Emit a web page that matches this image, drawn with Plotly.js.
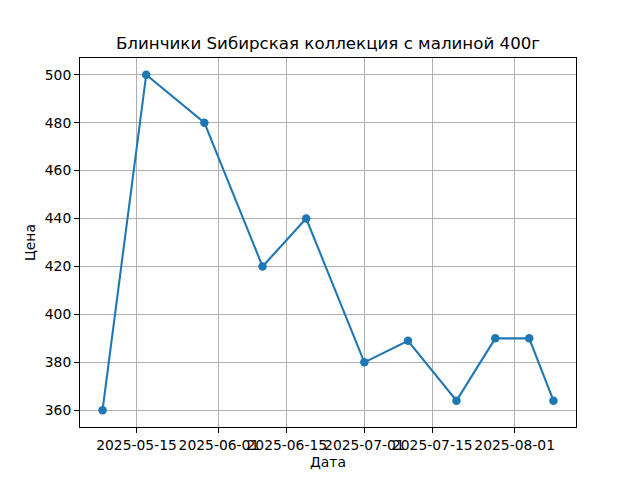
<!DOCTYPE html>
<html>
<head>
<meta charset="utf-8">
<script src="https://cdn.plot.ly/plotly-3.0.1.min.js"></script>
<style>html,body{margin:0;padding:0;background:#fff;}#chart{width:640px;height:480px;}</style>
</head>
<body>
<div id="chart"></div>
<script>
const dates = ["2025-05-08","2025-05-17","2025-05-29","2025-06-10","2025-06-19","2025-07-01","2025-07-10","2025-07-20","2025-07-28","2025-08-04","2025-08-09"];
const prices = [360, 500, 480, 420, 440, 380, 389, 364, 390, 390, 364];
const xTickVals = ["2025-05-15","2025-06-01","2025-06-15","2025-07-01","2025-07-15","2025-08-01"];
const yTickVals = [360, 380, 400, 420, 440, 460, 480, 500];
const titleText = "Блинчики Sибирская коллекция с малиной 400г";
const xLabel = "Дата";
const yLabel = "Цена";

function toMs(s){ return Date.parse(s + "T00:00:00Z"); }
function fmt(ms){ return new Date(ms).toISOString().replace("T"," ").replace("Z",""); }
const ms = dates.map(toMs);
const xmin = Math.min(...ms), xmax = Math.max(...ms);
const xpad = (xmax - xmin) * 0.05;
const ymin = Math.min(...prices), ymax = Math.max(...prices);
const ypad = (ymax - ymin) * 0.05;

const font = {family: "DejaVu Sans, sans-serif", size: 13.89, color: "#000"};
const trace = {
  x: dates, y: prices, type: "scatter", mode: "lines+markers",
  line: {color: "#1f77b4", width: 2.08},
  marker: {color: "#1f77b4", size: 8.5},
  hoverinfo: "none"
};
const axisCommon = {
  showline: true, mirror: true, linecolor: "#000", linewidth: 1.1,
  ticks: "outside", ticklen: 4.86, tickwidth: 1.1, tickcolor: "#000",
  showgrid: true, gridcolor: "#b0b0b0", gridwidth: 1.1, zeroline: false,
  tickfont: font
};
const layout = {
  width: 640, height: 480,
  paper_bgcolor: "#fff", plot_bgcolor: "#fff",
  margin: {l: 80, r: 64, t: 58, b: 53},
  showlegend: false,
  font: font,
  title: {text: titleText, font: {family: "DejaVu Sans, sans-serif", size: 16.67, color: "#000"}, x: 0.5125, xanchor: "center", y: 0.91, yanchor: "middle"},
  xaxis: Object.assign({}, axisCommon, {
    type: "date",
    range: [fmt(xmin - xpad), fmt(xmax + xpad)],
    tickmode: "array", tickvals: xTickVals, ticktext: xTickVals,
    tickangle: 0,
    title: {text: xLabel, font: font, standoff: 5}
  }),
  yaxis: Object.assign({}, axisCommon, {
    range: [ymin - ypad, ymax + ypad],
    tickmode: "array", tickvals: yTickVals, ticktext: yTickVals.map(String),
    title: {text: yLabel, font: font, standoff: 5}
  })
};
Plotly.newPlot("chart", [trace], layout, {staticPlot: true, displayModeBar: false});
</script>
</body>
</html>
